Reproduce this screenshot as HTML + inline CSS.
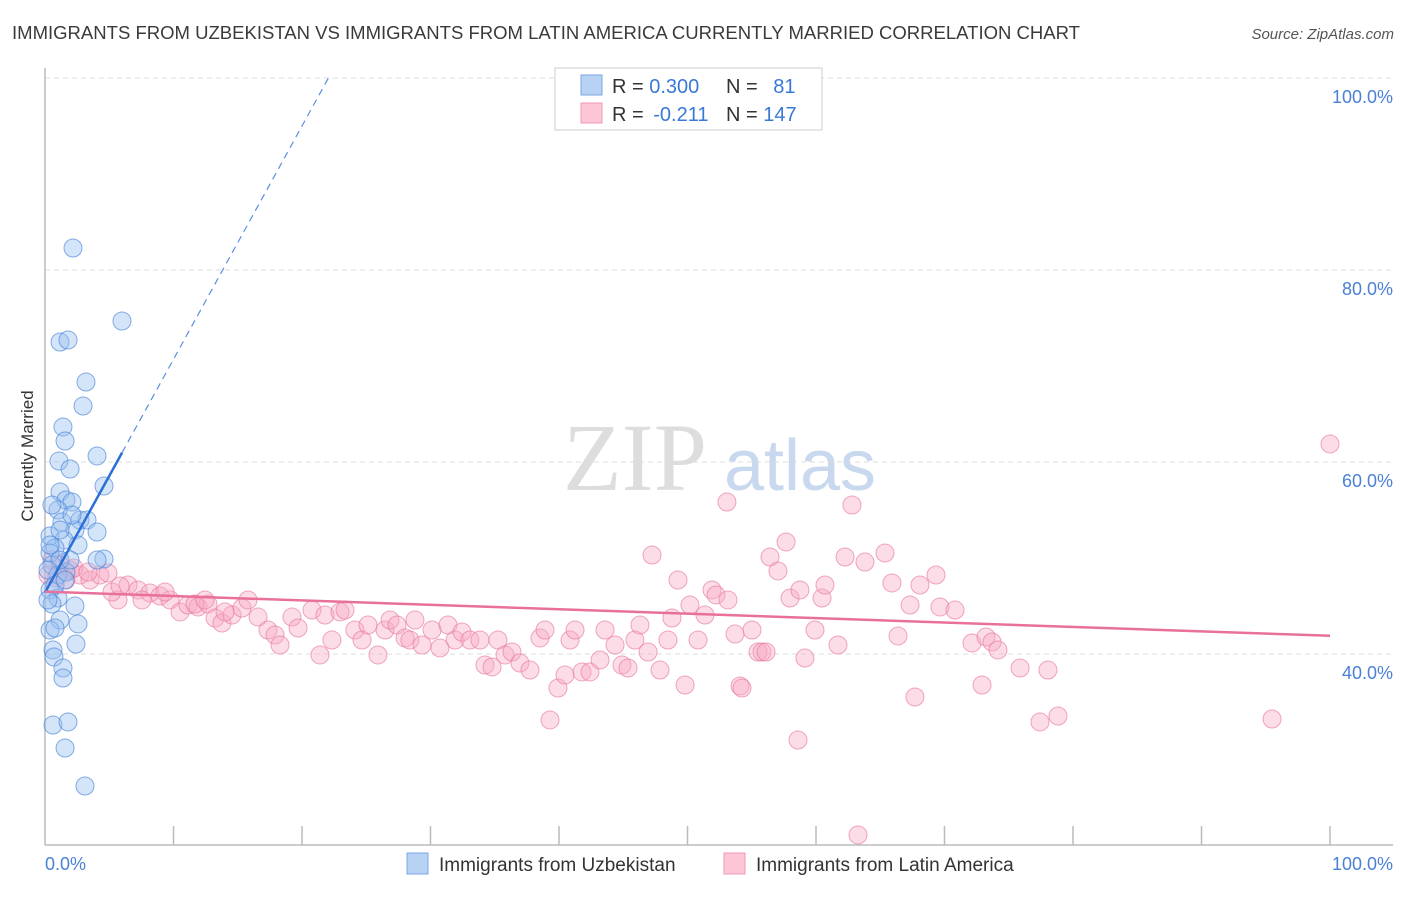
<!DOCTYPE html>
<html><head><meta charset="utf-8"><style>
body{margin:0;background:#fff;font-family:"Liberation Sans",sans-serif}
</style></head><body>
<svg id="chart" width="1406" height="892" xmlns="http://www.w3.org/2000/svg" font-family="Liberation Sans, sans-serif">
<text x="12" y="39" font-size="18" fill="#3a3a3a" textLength="1068" lengthAdjust="spacingAndGlyphs">IMMIGRANTS FROM UZBEKISTAN VS IMMIGRANTS FROM LATIN AMERICA CURRENTLY MARRIED CORRELATION CHART</text>
<text x="1394" y="39" font-size="15" font-style="italic" fill="#555" text-anchor="end">Source: ZipAtlas.com</text>
<g>
<text x="635" y="490" font-size="96" font-family="Liberation Serif, serif" fill="#ddd" text-anchor="middle">ZIP</text>
<text x="800" y="490" font-size="72" fill="#c8d8ee" text-anchor="middle">atlas</text>
</g>
<g id="grid"></g>
<line x1="45" y1="68" x2="45" y2="845" stroke="#bbb" stroke-width="1.5"/>
<line x1="45" y1="845" x2="1393" y2="845" stroke="#bbb" stroke-width="1.5"/>
<g id="xticks"></g>
<text transform="translate(33,456) rotate(-90)" font-size="17" fill="#333" text-anchor="middle">Currently Married</text>
<text x="45" y="870" font-size="18" fill="#4a80d6">0.0%</text>
<text x="1393" y="870" font-size="18" fill="#4a80d6" text-anchor="end">100.0%</text>
<g id="pts"></g>
<g id="trend"></g>
<g>
<rect x="555" y="68" width="267" height="62" fill="#fff" stroke="#ccc"/>
<rect x="581" y="75" width="21" height="20" fill="#b8d2f4" stroke="#7aa6e6"/>
<rect x="581" y="103" width="21" height="20" fill="#fcc6d6" stroke="#f09ab4"/>
<text x="612" y="93" font-size="20" fill="#333">R = <tspan fill="#3a78d8">0.300</tspan></text>
<text x="726" y="93" font-size="20" fill="#333">N = <tspan fill="#3a78d8" dx="10">81</tspan></text>
<text x="612" y="121" font-size="20" fill="#333">R = <tspan fill="#3a78d8" dx="4">-0.211</tspan></text>
<text x="726" y="121" font-size="20" fill="#333">N = <tspan fill="#3a78d8">147</tspan></text>
</g>
<g>
<rect x="407" y="853" width="21" height="21" fill="#b8d2f4" stroke="#7aa6e6"/>
<text x="439" y="871" font-size="19" fill="#333">Immigrants from Uzbekistan</text>
<rect x="724" y="853" width="21" height="21" fill="#fcc6d6" stroke="#f09ab4"/>
<text x="756" y="871" font-size="19" fill="#333">Immigrants from Latin America</text>
</g>
</svg>
<script>
const yTicks=[100,80,60,40];
const xTickVals=[10,20,30,40,50,60,70,80,90,100];
const bluePx=[[73,248],[122,321],[60,342],[68,340],[86,382],[83,406],[63,427],[65,441],[97,456],[59,461],[70,469],[104,486],[60,492],[66,500],[72,502],[58,510],[52,505],[80,520],[87,520],[62,522],[75,530],[97,532],[50,536],[64,540],[78,545],[55,548],[104,559],[97,560],[50,553],[52,565],[58,575],[66,572],[50,590],[58,598],[52,604],[75,606],[60,620],[78,624],[50,630],[55,628],[76,644],[53,650],[54,657],[63,668],[63,678],[53,725],[68,722],[65,748],[85,786],[60,560],[48,570],[55,585],[70,560],[65,580],[50,545],[60,530],[48,600],[72,515]];
const redPx=[[60,565],[70,570],[80,575],[90,580],[100,575],[108,573],[118,600],[128,585],[138,590],[150,593],[160,596],[170,600],[180,612],[188,605],[198,607],[208,604],[215,618],[222,623],[232,615],[242,608],[248,600],[258,617],[268,630],[275,635],[280,645],[292,617],[298,628],[312,610],[320,655],[325,615],[332,640],[340,612],[345,610],[355,630],[362,640],[368,625],[378,655],[385,630],[390,620],[397,625],[405,638],[410,640],[415,620],[422,645],[432,630],[440,648],[448,625],[455,640],[462,632],[470,640],[480,640],[485,665],[492,667],[498,640],[505,655],[512,652],[520,663],[530,670],[540,638],[545,630],[550,720],[558,688],[565,675],[570,640],[575,630],[582,672],[590,672],[600,660],[605,630],[615,645],[622,665],[628,668],[635,640],[640,625],[648,652],[652,555],[660,670],[668,640],[672,618],[678,580],[685,685],[690,605],[698,640],[705,615],[712,590],[716,595],[728,600],[727,502],[735,634],[740,686],[742,688],[752,630],[758,652],[762,652],[766,652],[770,557],[778,571],[786,542],[790,598],[798,740],[800,590],[805,658],[815,630],[822,598],[825,585],[838,645],[845,557],[852,505],[858,835],[865,562],[885,553],[892,583],[898,636],[910,605],[915,697],[920,585],[936,575],[940,607],[955,610],[972,643],[982,685],[986,637],[992,642],[998,650],[1020,668],[1040,722],[1048,670],[1058,716],[1272,719],[1330,444],[52,560],[56,578],[66,580],[48,575],[74,568],[88,572],[112,592],[120,586],[142,600],[165,592],[195,604],[205,600],[225,612]];
const blueX=bluePx.map(p=>+((p[0]-45)/12.85).toFixed(2)), blueY=bluePx.map(p=>+(100-(p[1]-78)/9.6).toFixed(2));
const redX=redPx.map(p=>+((p[0]-45)/12.85).toFixed(2)), redY=redPx.map(p=>+(100-(p[1]-78)/9.6).toFixed(2));
const blueTrend=[46.4,2.43];
const redTrend=[46.5,-0.046];
const sx=v=>45+v*12.85, sy=v=>78+(100-v)*9.6;
const NS="http://www.w3.org/2000/svg";
function mk(t,a,p){const e=document.createElementNS(NS,t);for(const k in a)e.setAttribute(k,a[k]);p.appendChild(e);return e;}
const grid=document.getElementById('grid');
yTicks.forEach(v=>{
 const l=mk('line',{x1:45,x2:1393,y1:sy(v),y2:sy(v),stroke:'#ddd','stroke-dasharray':'5,4'},grid);
 
 
 const t=mk('text',{x:1393,y:sy(v)+25,'font-size':18,fill:'#4a80d6','text-anchor':'end'},grid);
 t.textContent=v.toFixed(1)+'%';
 
 
});
const xt=document.getElementById('xticks');
xTickVals.forEach(v=>{
 const l=mk('line',{x1:sx(v),x2:sx(v),y1:826,y2:845,stroke:'#bbb','stroke-width':1.5},xt);
 
 
});
const pts=document.getElementById('pts');
redX.forEach((x,i)=>{
 const c=mk('circle',{cx:sx(x),cy:sy(redY[i]),r:9,fill:'rgba(248,170,195,0.4)',stroke:'rgba(232,120,160,0.65)','stroke-width':1},pts);
 
 
});
blueX.forEach((x,i)=>{
 const c=mk('circle',{cx:sx(x),cy:sy(blueY[i]),r:9,fill:'rgba(150,190,240,0.4)',stroke:'rgba(70,130,215,0.65)','stroke-width':1},pts);
 
 
});
const tr=document.getElementById('trend');
const bf=x=>blueTrend[0]+blueTrend[1]*x, rf=x=>redTrend[0]+redTrend[1]*x;
let l=mk('line',{x1:sx(0),y1:sy(bf(0)),x2:sx(6),y2:sy(bf(6)),stroke:'#2a6fd6','stroke-width':2.5},tr);


l=mk('line',{x1:sx(6),y1:sy(bf(6)),x2:sx(22.2),y2:sy(bf(22.2)),stroke:'#5b8fe0','stroke-width':1.2,'stroke-dasharray':'7,5'},tr);


l=mk('line',{x1:sx(0),y1:sy(rf(0)),x2:sx(100),y2:sy(rf(100)),stroke:'#e8709a','stroke-width':2.5},tr);


</script>
</body></html>
